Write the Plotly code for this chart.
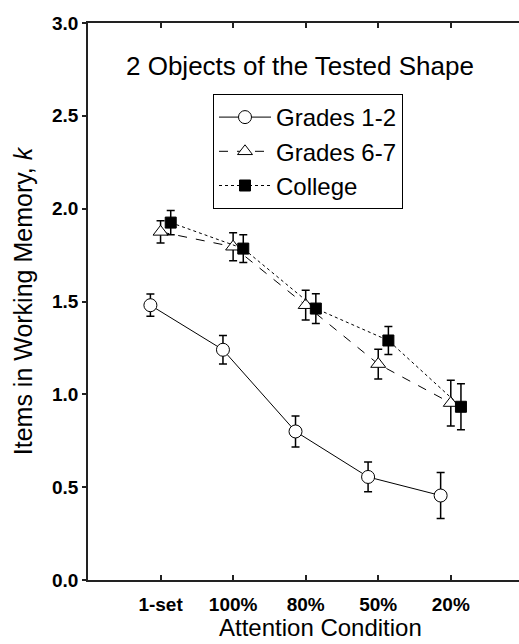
import plotly.graph_objects as go

categories = ["1-set", "100%", "80%", "50%", "20%"]
series_names = ["Grades 1-2", "Grades 6-7", "College"]
grades12 = [1.48, 1.24, 0.80, 0.555, 0.455]
grades12_err = [0.06, 0.077, 0.083, 0.08, 0.124]
grades67 = [1.875, 1.795, 1.48, 1.163, 0.953]
grades67_err = [0.06, 0.075, 0.08, 0.08, 0.123]
college = [1.925, 1.785, 1.462, 1.29, 0.933]
college_err = [0.065, 0.075, 0.08, 0.075, 0.124]
y_ticks = [0.0, 0.5, 1.0, 1.5, 2.0, 2.5, 3.0]

pos = list(range(1, len(categories) + 1))
offsets = [-0.14, 0.0, 0.14]
styles = [
    dict(symbol="circle", size=13, color="white", dash="solid"),
    dict(symbol="triangle-up", size=13, color="white", dash="dash"),
    dict(symbol="square", size=11, color="black", dash="dot"),
]
vals = [grades12, grades67, college]
errs = [grades12_err, grades67_err, college_err]

FONT = "Liberation Sans, Arial"
fig = go.Figure()
for name, v, e, off, st in zip(series_names, vals, errs, offsets, styles):
    fig.add_trace(go.Scatter(
        x=[p + off for p in pos], y=v, name=name, mode="lines+markers",
        line=dict(color="black", width=1, dash=st["dash"]),
        marker=dict(symbol=st["symbol"], size=st["size"], color=st["color"],
                    line=dict(color="black", width=1)),
        error_y=dict(type="data", array=e, visible=True, color="black",
                     thickness=1.5, width=4),
    ))

axis_font = dict(family=FONT, size=19, color="black", weight="bold")
fig.update_layout(
    width=519, height=644,
    margin=dict(l=88, r=0, t=23, b=64, autoexpand=False),
    paper_bgcolor="white", plot_bgcolor="white",
    font=dict(family=FONT, color="black"),
    showlegend=True,
    legend=dict(x=(213 - 88) / 431, y=(580 - 94) / 557, xanchor="left", yanchor="top",
                bordercolor="black", borderwidth=1, bgcolor="white",
                font=dict(size=24, family=FONT),
                tracegroupgap=0, itemwidth=52),
    xaxis=dict(range=[0, 5.94], tickmode="array", tickvals=pos, ticktext=categories,
               ticks="inside", ticklen=5, tickwidth=1.5, tickcolor="#222",
               showline=True, linecolor="#222", linewidth=1.5, mirror="allticks",
               showgrid=False, zeroline=False, tickfont=axis_font,
               ticklabelstandoff=6, automargin=False),
    yaxis=dict(range=[0, 3], tickmode="array", tickvals=y_ticks,
               ticktext=["%.1f" % t for t in y_ticks],
               ticks="outside", ticklen=4, tickwidth=1.5, tickcolor="#222",
               showline=True, linecolor="#222", linewidth=1.5, mirror=False,
               showgrid=False, zeroline=False, tickfont=axis_font, automargin=False,
               title=dict(text="Items in Working Memory, <i>k</i>",
                          font=dict(size=25, family=FONT), standoff=12)),
    annotations=[
        dict(text="2 Objects of the Tested Shape", xref="paper", yref="paper",
             x=(300 - 88) / 431, y=(580 - 66) / 557, xanchor="center", yanchor="middle",
             showarrow=False, font=dict(size=26, family=FONT, color="black")),
        dict(text="Attention Condition", xref="paper", yref="paper",
             x=(320 - 88) / 431, y=-(643 - 580) / 557, xanchor="center", yanchor="bottom",
             showarrow=False, font=dict(size=24, family=FONT, color="black")),
    ],
)
fig.write_html("out.html", config={"displayModeBar": False},
               post_script="document.body.style.margin='0';document.body.style.overflow='hidden';")
